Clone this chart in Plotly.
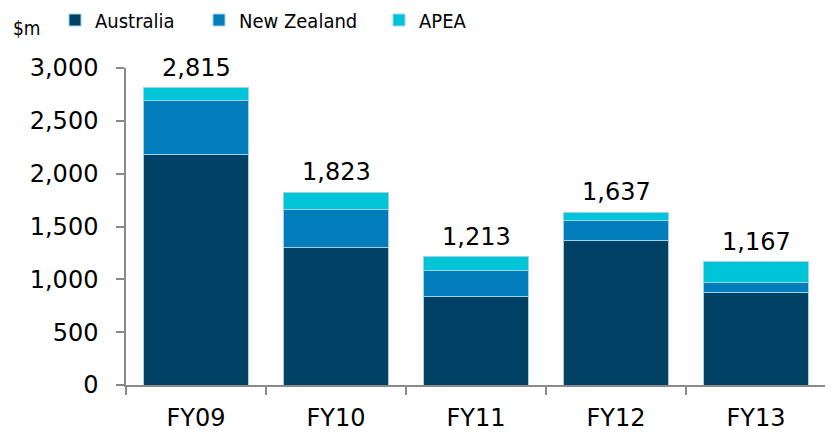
import plotly.graph_objects as go

categories = ["FY09", "FY10", "FY11", "FY12", "FY13"]
australia = [2185, 1305, 835, 1365, 873]
new_zealand = [503, 359, 246, 189, 101]
apea = [127, 159, 132, 83, 193]
totals = [2815, 1823, 1213, 1637, 1167]
total_labels = ["2,815", "1,823", "1,213", "1,637", "1,167"]

FONT = "DejaVu Sans, Verdana, sans-serif"
NARROW = "DejaVu Sans Condensed, DejaVu Sans, sans-serif"
edge = dict(color="#9fd3e6", width=1)

# page body has an 8px margin; figure drawn at (8, 8) in the window
OFF = 8
W, H = 833 - OFF, 433 - OFF
# plot area in screen pixels
SL, SR, ST, SB = 126, 826, 68, 385
L, T = SL - OFF, ST - OFF
R, B = W - (SR - OFF), H - (SB - OFF)
PW, PH = SR - SL, SB - ST

def px_x(x):
    return (x - SL) / PW

def px_y(y):
    return (SB - y) / PH

fig = go.Figure()
fig.add_trace(go.Bar(x=categories, y=australia, name="Australia", legend="legend",
                     marker=dict(color="#004165", line=edge)))
fig.add_trace(go.Bar(x=categories, y=new_zealand, name="New Zealand", legend="legend2",
                     marker=dict(color="#007DBA", line=edge)))
fig.add_trace(go.Bar(x=categories, y=apea, name="APEA", legend="legend3",
                     marker=dict(color="#00C5D8", line=edge)))

def leg(xpx):
    return dict(orientation="h", x=px_x(xpx), xanchor="left", y=px_y(20), yanchor="middle",
                font=dict(family=NARROW, size=20, color="#000000"),
                itemwidth=30, bgcolor="rgba(0,0,0,0)", borderwidth=0)

annots = [dict(text="$m", xref="paper", yref="paper", x=px_x(11), y=px_y(28),
               showarrow=False, xanchor="left", yanchor="middle",
               font=dict(family=NARROW, size=19, color="#000000"))]
for c, t, lab in zip(categories, totals, total_labels):
    annots.append(dict(x=c, y=t, xref="x", yref="y", text=lab, showarrow=False,
                       xanchor="center", yanchor="bottom", yshift=4,
                       font=dict(family=FONT, size=24, color="#000000")))

fig.update_layout(
    width=W, height=H,
    margin=dict(l=L, r=R, t=T, b=B, autoexpand=False),
    barmode="stack", bargap=0.257,
    plot_bgcolor="white", paper_bgcolor="white",
    font=dict(family=FONT, size=24, color="#000000"),
    legend=leg(55), legend2=leg(199), legend3=leg(379),
    showlegend=True,
    annotations=annots,
)

fig.update_yaxes(range=[0, 3000], tickvals=[0, 500, 1000, 1500, 2000, 2500, 3000],
                 ticktext=["0", "500", "1,000", "1,500", "2,000", "2,500", "3,000"],
                 showgrid=False, zeroline=False, showline=True, linecolor="#898989",
                 linewidth=1.5, ticks="outside", ticklen=8, tickcolor="#898989",
                 tickwidth=1.5, ticklabelstandoff=13, automargin=False,
                 tickfont=dict(family=FONT, size=24, color="#000000"))
fig.update_xaxes(showgrid=False, showline=True, linecolor="#898989", linewidth=1.5,
                 ticks="outside", ticklen=8, tickcolor="#898989", tickwidth=1.5,
                 tickson="boundaries", ticklabelstandoff=10, automargin=False,
                 tickfont=dict(family=FONT, size=24, color="#000000"))

fig.write_html("out.html")
